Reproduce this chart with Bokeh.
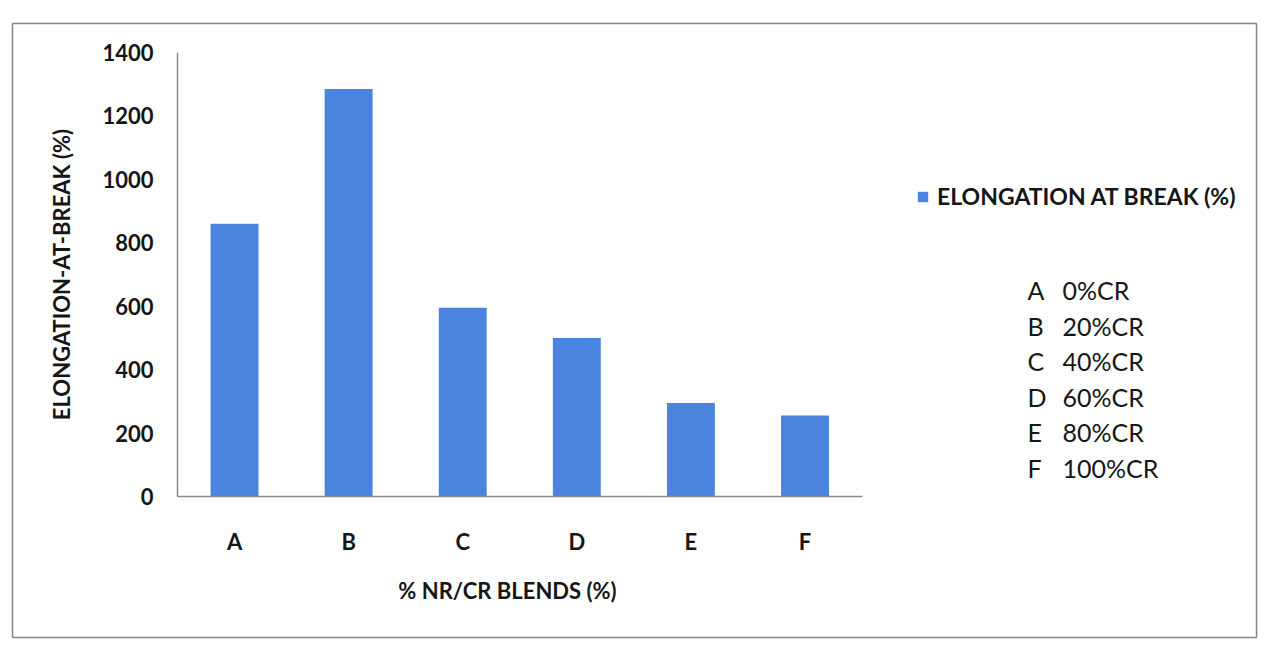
from bokeh.plotting import figure
from bokeh.models import Range1d, FixedTicker, Legend, LegendItem, Label
from bokeh.embed import file_html
from bokeh.resources import INLINE

# Elongation at break of NR/CR blends
blends = ["A", "B", "C", "D", "E", "F"]
elongation = [860, 1285, 595, 500, 295, 255]
cr_content = ["0%CR", "20%CR", "40%CR", "60%CR", "80%CR", "100%CR"]
y_ticks = [0, 200, 400, 600, 800, 1000, 1200, 1400]

BAR_COLOR = "#4A84DE"
TEXT_COLOR = "#161616"
AXIS_COLOR = "#8a8a8a"
FONT = "Lato"

positions = list(range(len(blends)))

# The plot frame is the chart border; the axes sit inside it at fixed places.
p = figure(
    width=1267, height=646,
    x_range=Range1d(-1.946, 8.957),
    y_range=Range1d(-444.6, 1491.4),
    output_backend="svg", toolbar_location=None,
    min_border_left=12, min_border_right=11,
    min_border_top=23, min_border_bottom=9,
)
p.background_fill_color = "white"
p.border_fill_color = "white"
p.outline_line_color = "#858585"
p.outline_line_width = 1.5
p.xgrid.grid_line_color = None
p.ygrid.grid_line_color = None

bars = p.vbar(x=positions, top=elongation, width=0.42,
              fill_color=BAR_COLOR, line_color=None)

# y axis
ya = p.yaxis[0]
ya.fixed_location = -0.5
ya.bounds = (0, 1400)
ya.ticker = FixedTicker(ticks=y_ticks)
ya.axis_line_color = AXIS_COLOR
ya.axis_line_width = 1.5
ya.major_tick_line_color = None
ya.minor_tick_line_color = None
ya.major_tick_out = 0
ya.major_tick_in = 0
ya.major_label_standoff = 24
ya.major_label_text_font = FONT
ya.major_label_text_font_style = "bold"
ya.major_label_text_font_size = "22px"
ya.major_label_text_color = TEXT_COLOR
ya.axis_label = "ELONGATION-AT-BREAK (%)"
ya.axis_label_text_font = FONT
ya.axis_label_text_font_style = "bold"
ya.axis_label_text_font_size = "22px"
ya.axis_label_text_color = TEXT_COLOR
ya.axis_label_standoff = 24

# x axis (blend codes)
xa = p.xaxis[0]
xa.fixed_location = 0
xa.bounds = (-0.5, len(blends) - 0.5)
xa.ticker = FixedTicker(ticks=positions)
xa.major_label_overrides = {i: b for i, b in zip(positions, blends)}
xa.axis_line_color = AXIS_COLOR
xa.axis_line_width = 1.5
xa.major_tick_line_color = None
xa.minor_tick_line_color = None
xa.major_tick_out = 0
xa.major_tick_in = 0
xa.major_label_standoff = 32
xa.major_label_text_font = FONT
xa.major_label_text_font_style = "bold"
xa.major_label_text_font_size = "22px"
xa.major_label_text_color = TEXT_COLOR

# x axis title, below the blend codes
p.add_layout(Label(x=2.392, y=-296.4, text="% NR/CR BLENDS (%)",
                   text_font=FONT, text_font_style="bold",
                   text_font_size="22px", text_color=TEXT_COLOR,
                   text_align="center", text_baseline="middle"))

# series legend
legend = Legend(
    items=[LegendItem(label="ELONGATION AT BREAK (%)", renderers=[bars])],
    location=(904, 427),
    padding=0, margin=0, spacing=0,
    glyph_width=13, glyph_height=13, label_standoff=8, label_height=22,
    label_text_font=FONT, label_text_font_style="bold",
    label_text_font_size="23px", label_text_color=TEXT_COLOR,
    border_line_color=None, background_fill_alpha=0,
)
p.add_layout(legend, "center")

# key for the blend codes
key_x_code = 6.95
key_x_text = 7.257
key_y_top = 651
key_y_step = 112.25
for i, (code, cr) in enumerate(zip(blends, cr_content)):
    y = key_y_top - i * key_y_step
    p.add_layout(Label(x=key_x_code, y=y, text=code, text_font=FONT,
                       text_font_size="25px", text_color=TEXT_COLOR,
                       text_baseline="middle", text_align="left"))
    p.add_layout(Label(x=key_x_text, y=y, text=cr, text_font=FONT,
                       text_font_size="25px", text_color=TEXT_COLOR,
                       text_baseline="middle", text_align="left"))

open("out.html", "w").write(file_html(p, INLINE))
